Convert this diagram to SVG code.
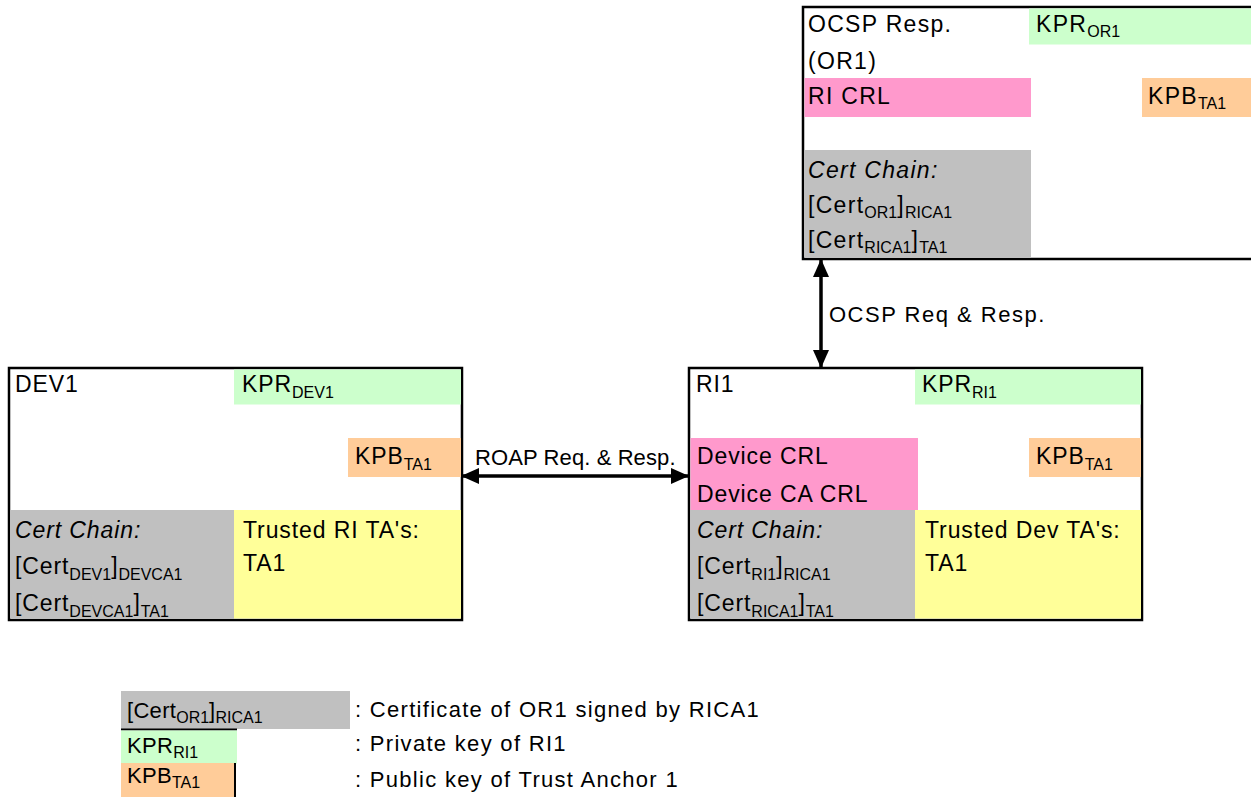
<svg xmlns="http://www.w3.org/2000/svg" width="1251" height="797" viewBox="0 0 1251 797">
<style>
text{font-family:"Liberation Sans",Arial,sans-serif;font-size:23px;fill:#000;letter-spacing:0.9px}
.o text{letter-spacing:1.3px}
.s{font-size:16px;letter-spacing:0}
.i{font-style:italic}
.box{fill:#fff;stroke:#000;stroke-width:2.5}
.g{fill:#CCFFCC}.p{fill:#FF99CC}.k{fill:#FFCC99}.c{fill:#C0C0C0}.y{fill:#FFFF99}
.con{stroke:#000;stroke-width:3.5;fill:none;marker-start:url(#ah);marker-end:url(#ah)}
.lbl{font-size:22px;letter-spacing:0.1px}
.leg{font-size:22px;letter-spacing:1.3px}
</style>
<defs>
<marker id="ah" viewBox="0 0 18 16" refX="17" refY="8" markerWidth="18" markerHeight="16" markerUnits="userSpaceOnUse" orient="auto-start-reverse">
<path d="M0,0 L18,8 L0,16 Z" fill="#000"/>
</marker>
</defs>

<g id="ocsp" class="o">
<rect class="box" x="803" y="7" width="451" height="252"/>
<rect class="g" x="1029" y="8.5" width="222" height="36"/>
<rect class="p" x="804.5" y="78" width="226.5" height="39"/>
<rect class="k" x="1142" y="78" width="109" height="39"/>
<rect class="c" x="804.5" y="150" width="226.5" height="107.5"/>
<text x="808" y="32">OCSP Resp.</text>
<text x="808" y="69">(OR1)</text>
<text x="808" y="104">RI CRL</text>
<text x="1036" y="32">KPR<tspan class="s" dy="5">OR1</tspan></text>
<text x="1148" y="104">KPB<tspan class="s" dy="5">TA1</tspan></text>
<text class="i" x="808" y="178">Cert Chain:</text>
<text x="808" y="213">[Cert<tspan class="s" dy="5">OR1</tspan><tspan dy="-5">]</tspan><tspan class="s" dy="5">RICA1</tspan></text>
<text x="808" y="248">[Cert<tspan class="s" dy="5">RICA1</tspan><tspan dy="-5">]</tspan><tspan class="s" dy="5">TA1</tspan></text>
</g>

<g id="dev1">
<rect class="box" x="9" y="368" width="453" height="252"/>
<rect class="g" x="234" y="369.5" width="227" height="35"/>
<rect class="k" x="348" y="438" width="113" height="39"/>
<rect class="c" x="10.5" y="510" width="223.5" height="108.5"/>
<rect class="y" x="234" y="510" width="227" height="108.5"/>
<text x="15" y="392">DEV1</text>
<text x="242" y="392">KPR<tspan class="s" dy="6">DEV1</tspan></text>
<text x="355" y="464">KPB<tspan class="s" dy="6">TA1</tspan></text>
<text class="i" x="15" y="538">Cert Chain:</text>
<text x="15" y="574">[Cert<tspan class="s" dy="6">DEV1</tspan><tspan dy="-6">]</tspan><tspan class="s" dy="6">DEVCA1</tspan></text>
<text x="15" y="611">[Cert<tspan class="s" dy="6">DEVCA1</tspan><tspan dy="-6">]</tspan><tspan class="s" dy="6">TA1</tspan></text>
<text x="243" y="538">Trusted RI TA's:</text>
<text x="243" y="571">TA1</text>
</g>

<g id="ri1">
<rect class="box" x="689" y="368" width="453" height="252"/>
<rect class="g" x="915" y="369.5" width="226" height="35"/>
<rect class="p" x="690.5" y="438" width="227.5" height="72"/>
<rect class="k" x="1029" y="438" width="112" height="39"/>
<rect class="c" x="690.5" y="510" width="224.5" height="108.5"/>
<rect class="y" x="915" y="510" width="226" height="108.5"/>
<text x="696" y="392">RI1</text>
<text x="922" y="392">KPR<tspan class="s" dy="6">RI1</tspan></text>
<text x="697" y="464">Device CRL</text>
<text x="697" y="502">Device CA CRL</text>
<text x="1036" y="464">KPB<tspan class="s" dy="6">TA1</tspan></text>
<text class="i" x="697" y="538">Cert Chain:</text>
<text x="697" y="574">[Cert<tspan class="s" dy="6">RI1</tspan><tspan dy="-6">]</tspan><tspan class="s" dy="6">RICA1</tspan></text>
<text x="697" y="611">[Cert<tspan class="s" dy="6">RICA1</tspan><tspan dy="-6">]</tspan><tspan class="s" dy="6">TA1</tspan></text>
<text x="925" y="538">Trusted Dev TA's:</text>
<text x="925" y="571">TA1</text>
</g>

<g id="connectors">
<line class="con" x1="462" y1="476" x2="688" y2="476"/>
<line class="con" x1="821" y1="260" x2="821" y2="367"/>
<text class="lbl" x="475" y="465">ROAP Req. &amp; Resp.</text>
<text class="lbl" x="829" y="322" style="letter-spacing:1.5px">OCSP Req &amp; Resp.</text>
</g>

<g id="legend">
<rect class="c" x="121" y="691" width="229" height="38"/>
<line x1="121" y1="729.5" x2="237" y2="729.5" stroke="#000" stroke-width="2"/>
<rect class="g" x="121" y="730.5" width="116" height="33"/>
<rect class="k" x="121" y="763" width="114" height="34"/>
<line x1="235" y1="763" x2="235" y2="797" stroke="#000" stroke-width="2"/>
<text class="leg" x="127" y="718" style="letter-spacing:0.3px">[Cert<tspan class="s" dy="5">OR1</tspan><tspan dy="-5">]</tspan><tspan class="s" dy="5">RICA1</tspan></text>
<text class="leg" x="127" y="753" style="letter-spacing:0.3px">KPR<tspan class="s" dy="5">RI1</tspan></text>
<text class="leg" x="127" y="783" style="letter-spacing:0.3px">KPB<tspan class="s" dy="5">TA1</tspan></text>
<text class="leg" x="355" y="717">: Certificate of OR1 signed by RICA1</text>
<text class="leg" x="355" y="751">: Private key of RI1</text>
<text class="leg" x="355" y="787">: Public key of Trust Anchor 1</text>
</g>
</svg>
